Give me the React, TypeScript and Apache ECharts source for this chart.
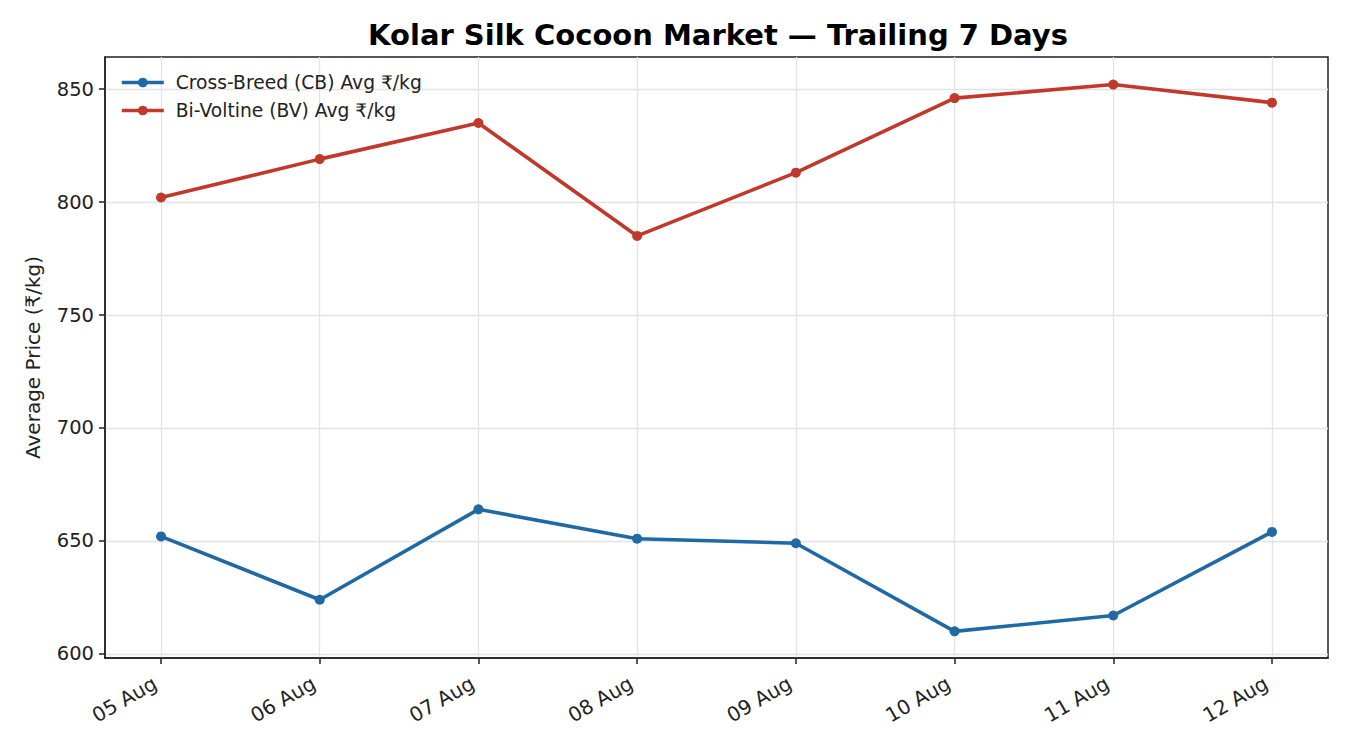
import React, { useEffect, useRef } from "react";
import * as echarts from "echarts";

const categories = ["05 Aug", "06 Aug", "07 Aug", "08 Aug", "09 Aug", "10 Aug", "11 Aug", "12 Aug"];
const cbValues = [652, 624, 664, 651, 649, 610, 617, 654];
const bvValues = [802, 819, 835, 785, 813, 846, 852, 844];
const yTicks = [600, 650, 700, 750, 800, 850];

const FONT = "DejaVu Sans";

export default function App() {
  const ref = useRef<HTMLDivElement>(null);
  useEffect(() => {
    if (!ref.current) return;
    const chart = echarts.init(ref.current, undefined, { renderer: "svg" });
    const xIdx = categories.map((_, i) => i);
    chart.setOption({
      animation: false,
      backgroundColor: "#ffffff",
      textStyle: { fontFamily: FONT },
      title: {
        text: "Kolar Silk Cocoon Market — Trailing 7 Days",
        left: 713,
        top: 15,
        textAlign: "center",
        textStyle: { fontFamily: FONT, fontSize: 29, fontWeight: "bold", color: "#000" },
      },
      legend: {
        orient: "vertical",
        left: 115,
        top: 68,
        itemWidth: 42,
        itemHeight: 12,
        itemGap: 9,
        lineStyle: { width: 3.6 },
        textStyle: { fontFamily: FONT, fontSize: 18.7, color: "#222", padding: [0, 0, 0, 7] },
        data: ["Cross-Breed (CB) Avg ₹/kg", "Bi-Voltine (BV) Avg ₹/kg"],
      },
      grid: {
        left: 105,
        right: 22,
        top: 57,
        bottom: 92,
        show: true,
        borderColor: "#222",
        borderWidth: 1.5,
        containLabel: false,
      },
      xAxis: {
        type: "value",
        min: -0.353,
        max: 7.353,
        axisLine: { show: true, onZero: false, lineStyle: { color: "#222", width: 1.5 } },
        axisTick: { show: true, length: 6, lineStyle: { color: "#222", width: 1.5 }, customValues: xIdx },
        axisLabel: {
          customValues: xIdx,
          rotate: 30,
          fontFamily: FONT,
          fontSize: 20,
          color: "#222",
          margin: 20,
          padding: [0, 7, 0, 0],
          formatter: (v: number) => categories[Math.round(v)] ?? "",
        },
        splitLine: { show: true, lineStyle: { color: "#e3e3e3", width: 1.3 } },
      },
      yAxis: {
        type: "value",
        min: 598.2,
        max: 864.2,
        name: "Average Price (₹/kg)",
        nameLocation: "middle",
        nameGap: 62,
        nameTextStyle: { fontFamily: FONT, fontSize: 20, color: "#222" },
        axisLine: { show: true, onZero: false, lineStyle: { color: "#222", width: 1.5 } },
        axisTick: { show: true, length: 6, lineStyle: { color: "#222", width: 1.5 }, customValues: yTicks },
        axisLabel: { customValues: yTicks, fontFamily: FONT, fontSize: 19.5, color: "#222", margin: 11 },
        splitLine: { show: true, lineStyle: { color: "#e3e3e3", width: 1.3 } },
      },
      series: [
        {
          name: "Cross-Breed (CB) Avg ₹/kg",
          type: "line",
          data: cbValues.map((v, i) => [i, v]),
          symbol: "circle",
          symbolSize: 10,
          lineStyle: { color: "#1f6aa5", width: 3.6 },
          itemStyle: { color: "#1f6aa5" },
        },
        {
          name: "Bi-Voltine (BV) Avg ₹/kg",
          type: "line",
          data: bvValues.map((v, i) => [i, v]),
          symbol: "circle",
          symbolSize: 10,
          lineStyle: { color: "#c0392b", width: 3.6 },
          itemStyle: { color: "#c0392b" },
        },
      ],
    });
    return () => chart.dispose();
  }, []);
  return (
    <div
      ref={ref}
      style={{ position: "absolute", left: 0, top: 0, width: 1350, height: 750 }}
    />
  );
}
